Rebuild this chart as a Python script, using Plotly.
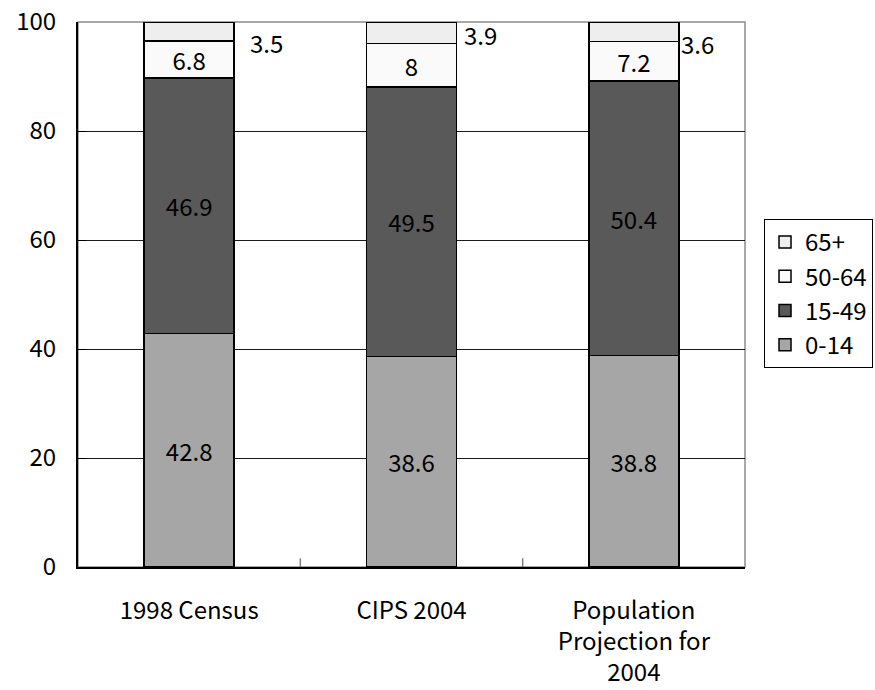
import plotly.graph_objects as go

# Age structure (%) by data source
categories = ["1998 Census", "CIPS 2004", "Population<br>Projection for<br>2004"]
age_0_14 = [42.8, 38.6, 38.8]
age_15_49 = [46.9, 49.5, 50.4]
age_50_64 = [6.8, 8.0, 7.2]
age_65_plus = [3.5, 3.9, 3.6]

FONT = "Noto Sans CJK JP, Liberation Sans, sans-serif"
FS = 24
x_idx = list(range(len(categories)))

series = [
    ("0-14", age_0_14, "#a6a6a6"),
    ("15-49", age_15_49, "#595959"),
    ("50-64", age_50_64, "#fafafa"),
    ("65+", age_65_plus, "#eeeeee"),
]

fig = go.Figure()
for name, vals, color in series:
    show_text = name != "65+"
    fig.add_trace(go.Bar(
        x=x_idx, y=vals, name=name,
        width=0.405,
        marker=dict(color=color, line=dict(color="#000000", width=1.5)),
        text=[f"{v:g}" for v in vals] if show_text else None,
        textposition="inside" if show_text else "none",
        insidetextanchor="middle",
        textangle=0,
        constraintext="none",
        textfont=dict(family=FONT, size=FS, color="#000000"),
        hoverinfo="skip",
    ))

# 65+ values written beside the top segment
label_shift = [14, 5, 0]
label_yshift = [-20, -12, -21]
for i, v in enumerate(age_65_plus):
    fig.add_annotation(
        x=x_idx[i] + 0.2025, y=100, xref="x", yref="y",
        text=f"{v:g}", showarrow=False,
        xanchor="left", yanchor="middle",
        xshift=label_shift[i], yshift=label_yshift[i],
        font=dict(family=FONT, size=FS, color="#000000"),
    )

# thin grey frame on the top and right of the plot area
fig.add_shape(type="rect", xref="paper", yref="paper", x0=0, y0=0, x1=1, y1=1,
              line=dict(color="#8c8c8c", width=1.5), layer="below")

fig.update_layout(
    barmode="stack",
    width=875, height=690,
    margin=dict(l=78, r=130, t=22, b=123, autoexpand=False),
    plot_bgcolor="#ffffff", paper_bgcolor="#ffffff",
    font=dict(family=FONT, size=FS, color="#000000"),
    legend=dict(
        x=1.0285, y=0.6385, xanchor="left", yanchor="top",
        traceorder="reversed",
        bordercolor="#000000", borderwidth=1,
        bgcolor="#ffffff",
        font=dict(family=FONT, size=FS, color="#000000"),
        itemwidth=30, tracegroupgap=0,
    ),
    xaxis=dict(
        tickvals=x_idx, ticktext=categories,
        range=[-0.5, 2.5], automargin=False,
        showline=True, linecolor="#000000", linewidth=2,
        ticks="", showgrid=False, zeroline=False,
        ticklabelstandoff=21,
        tickfont=dict(family=FONT, size=FS),
    ),
    yaxis=dict(
        range=[0, 100], tickvals=[0, 20, 40, 60, 80, 100],
        automargin=False,
        showline=True, linecolor="#000000", linewidth=2,
        ticks="inside", ticklen=8, tickcolor="#000000",
        showgrid=True, gridcolor="#1a1a1a", gridwidth=1,
        zeroline=False,
        ticklabelstandoff=15,
        tickfont=dict(family=FONT, size=FS),
    ),
    showlegend=True,
)

# small tick marks at the category boundaries
for b in [0.5, 1.5]:
    fig.add_shape(type="line", xref="x", yref="paper", x0=b, x1=b, y0=0, y1=0.016,
                  line=dict(color="#7f7f7f", width=1.5))

fig.write_html("out.html")
